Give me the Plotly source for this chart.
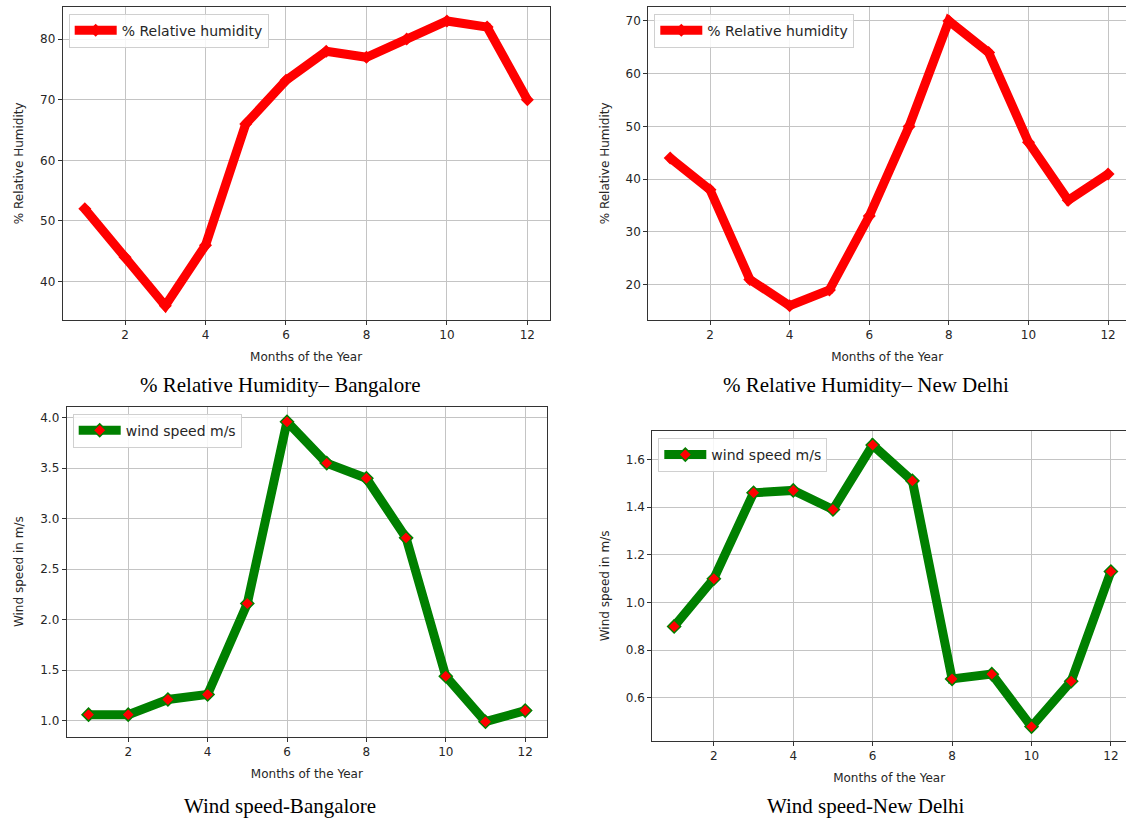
import plotly.graph_objects as go

months = list(range(1, 13))
rh_bangalore = [52, 44, 36, 46, 66, 73.2, 78, 77, 80, 83, 82, 70]
rh_delhi = [44, 38, 21, 16, 19, 33, 50, 70, 64, 47, 36, 41]
ws_bangalore = [1.06, 1.06, 1.21, 1.26, 2.16, 3.96, 3.55, 3.40, 2.81, 1.44, 0.99, 1.10]
ws_delhi = [0.90, 1.10, 1.46, 1.47, 1.39, 1.66, 1.51, 0.68, 0.70, 0.48, 0.67, 1.13]

rh_label = "% Relative humidity"
ws_label = "wind speed m/s"
x_title = "Months of the Year"
rh_ytitle = "% Relative Humidity"
ws_ytitle = "Wind speed in m/s"
captions = ["% Relative Humidity– Bangalore", "% Relative Humidity– New Delhi",
            "Wind speed-Bangalore", "Wind speed-New Delhi"]

W, H = 1126, 821
FONT = "DejaVu Sans"
TXT = "#262626"
AX_FS = 12
LEG_FS = 14

fig = go.Figure()

def px_x(p):
    return p / W

def px_y(p):
    return 1 - p / H

panels = [
    ("x", "y", "legend", (62.7, 549.5), (6.7, 320.0), [0.45, 12.55], [33.65, 85.35], rh_ytitle, 10),
    ("x2", "y2", "legend2", (648.3, W), (6.7, 320.0), [0.45, 12.45], [13.3, 72.7], rh_ytitle, 10),
    ("x3", "y3", "legend3", (66.7, 547.0), (406.7, 736.7), [0.45, 12.55], [0.8415, 4.1085], ws_ytitle, 0.5),
    ("x4", "y4", "legend4", (652.3, W), (431.0, 740.7), [0.45, 12.38], [0.421, 1.719], ws_ytitle, 0.2),
]

series = [
    (rh_bangalore, rh_label, "red", dict(symbol="diamond", size=10, color="red")),
    (rh_delhi, rh_label, "red", dict(symbol="diamond", size=10, color="red")),
    (ws_bangalore, ws_label, "green", dict(symbol="diamond", size=10, color="red",
                                          line=dict(color="green", width=1.5))),
    (ws_delhi, ws_label, "green", dict(symbol="diamond", size=10, color="red",
                                      line=dict(color="green", width=1.5))),
]

layout = dict(
    width=W, height=H,
    margin=dict(l=0, r=0, t=0, b=0),
    paper_bgcolor="white", plot_bgcolor="white",
    font=dict(family=FONT, size=AX_FS, color=TXT),
    annotations=[], showlegend=True,
)

for (xa, ya, lg, xd, yd, xr, yr, yt, dty), (vals, name, col, mk) in zip(panels, series):
    fig.add_trace(go.Scatter(
        x=months, y=vals, name=name, mode="lines+markers",
        line=dict(color=col, width=9), marker=mk,
        xaxis=xa, yaxis=ya, legend=lg,
    ))
    xkey = "xaxis" if xa == "x" else "xaxis" + xa[1:]
    ykey = "yaxis" if ya == "y" else "yaxis" + ya[1:]
    layout[xkey] = dict(
        domain=[px_x(xd[0]), min(1.0, px_x(xd[1]))], range=xr, anchor=ya,
        tickmode="linear", tick0=2, dtick=2,
        showgrid=True, gridcolor="#c4c4c4", gridwidth=1, zeroline=False,
        showline=True, linecolor="#333333", linewidth=1, mirror=True,
        ticks="outside", ticklen=4, tickcolor="#333333",
        tickfont=dict(family=FONT, size=AX_FS, color=TXT),
        title=dict(text=x_title, font=dict(family=FONT, size=AX_FS, color=TXT), standoff=11),
    )
    layout[ykey] = dict(
        domain=[px_y(yd[1]), px_y(yd[0])], range=yr, anchor=xa,
        tickmode="linear", tick0=0, dtick=dty,
        tickformat=".1f" if dty < 1 else "d",
        showgrid=True, gridcolor="#c4c4c4", gridwidth=1, zeroline=False,
        showline=True, linecolor="#333333", linewidth=1, mirror=(xd[1] < W),
        ticks="outside", ticklen=4, tickcolor="#333333",
        tickfont=dict(family=FONT, size=AX_FS, color=TXT),
        title=dict(text=yt, font=dict(family=FONT, size=AX_FS, color=TXT), standoff=13),
    )
    layout[lg] = dict(
        x=px_x(xd[0] + 6), y=px_y(yd[0] + 7), xanchor="left", yanchor="top",
        bgcolor="rgba(255,255,255,0.85)", bordercolor="#d0d0d0", borderwidth=1,
        font=dict(family=FONT, size=LEG_FS, color=TXT),
        itemwidth=42,
    )

cap_pos = [(280, 385), (866, 385), (280, 806), (866, 806)]
for text, (cx, cy) in zip(captions, cap_pos):
    layout["annotations"].append(dict(
        text=text, x=px_x(cx), y=px_y(cy), xref="paper", yref="paper",
        xanchor="center", yanchor="middle", showarrow=False,
        font=dict(family="Liberation Serif", size=21, color="black"),
    ))

fig.update_layout(**layout)
fig.write_html("out.html", config={"displayModeBar": False},
               post_script="document.body.style.margin='0';document.body.style.overflow='hidden';")
